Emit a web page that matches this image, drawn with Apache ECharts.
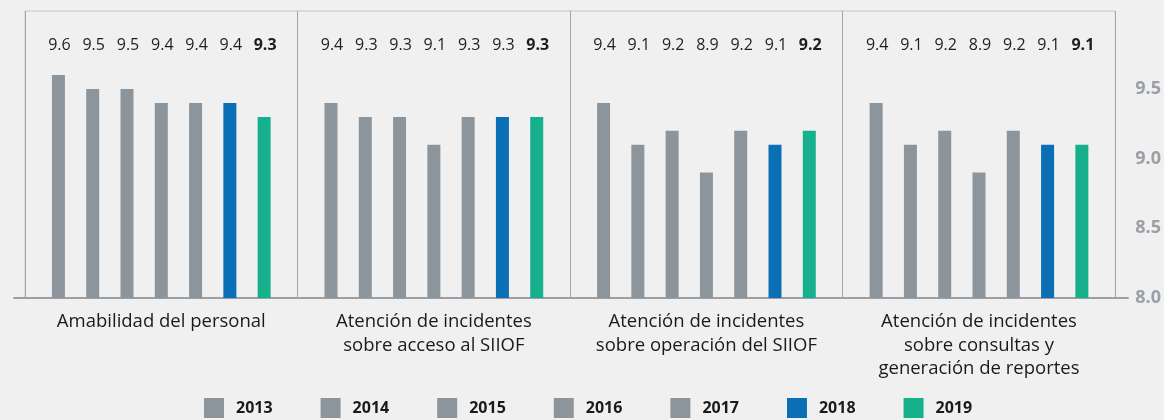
<!DOCTYPE html>
<html>
<head>
<meta charset="utf-8">
<script src="https://cdn.jsdelivr.net/npm/echarts@6/dist/echarts.min.js"></script>
<style>
  html, body { margin: 0; padding: 0; background: #f0f0f0; }
  #chart { width: 1164px; height: 420px; }
</style>
</head>
<body>
<div id="chart"></div>
<script>
// Survey categories (x axis)
const categories = [
  'Amabilidad del personal',
  'Atención de incidentes\nsobre acceso al SIIOF',
  'Atención de incidentes\nsobre operación del SIIOF',
  'Atención de incidentes\nsobre consultas y\ngeneración de reportes'
];

// Yearly scores per category
const years = ['2013', '2014', '2015', '2016', '2017', '2018', '2019'];
const v2013 = [9.6, 9.4, 9.4, 9.4];
const v2014 = [9.5, 9.3, 9.1, 9.1];
const v2015 = [9.5, 9.3, 9.2, 9.2];
const v2016 = [9.4, 9.1, 8.9, 8.9];
const v2017 = [9.4, 9.3, 9.2, 9.2];
const v2018 = [9.4, 9.3, 9.1, 9.1];
const v2019 = [9.3, 9.3, 9.2, 9.1];
const yearValues = [v2013, v2014, v2015, v2016, v2017, v2018, v2019];

// Right-hand axis tick labels
const yTickLabels = ['8.0', '8.5', '9.0', '9.5'];

const GRAY = '#8d959c';
const colors = [GRAY, GRAY, GRAY, GRAY, GRAY, '#0b6fb5', '#17b08d'];
const Y_MIN = 8.0;
const Y_MAX = 10.06;
const FONT = '"Open Sans", "Noto Sans", sans-serif';

// Each year is a custom series: a slim bar offset within the category band,
// plus its value printed on a common row near the top of the plot.
function makeRenderer(k) {
  return function (params, api) {
    const cat = api.value(0);
    const v = api.value(1);
    const band = api.size([1, 0])[0];
    const step = band * 0.1258;
    const w = band * 0.0477;
    const top = api.coord([cat, v]);
    const base = api.coord([cat, Y_MIN]);
    const x = top[0] + (k - 3) * step;
    const labelY = params.coordSys.y + 34.5;
    return {
      type: 'group',
      children: [
        {
          type: 'rect',
          shape: { x: x - w / 2, y: top[1], width: w, height: base[1] - top[1] },
          style: { fill: colors[k] }
        },
        {
          type: 'text',
          x: x + 1,
          y: labelY,
          style: {
            text: v.toFixed(1),
            align: 'center',
            verticalAlign: 'middle',
            fill: '#1e1e1e',
            font: (k === 6 ? 'bold ' : 'normal ') + '16px ' + FONT
          }
        }
      ]
    };
  };
}

const series = years.map((y, k) => ({
  name: y,
  type: 'custom',
  xAxisIndex: 0,
  yAxisIndex: 0,
  itemStyle: { color: colors[k] },
  renderItem: makeRenderer(k),
  encode: { x: 0, y: 1 },
  data: yearValues[k].map((val, i) => [i, val])
}));

const option = {
  backgroundColor: '#f0f0f0',
  animation: false,
  textStyle: { fontFamily: FONT },
  legend: {
    data: years,
    left: 199,
    top: 393,
    itemWidth: 20,
    itemHeight: 20,
    itemGap: 48,
    icon: 'rect',
    textStyle: { fontSize: 16, fontWeight: 'bold', color: '#1a1a1a', fontFamily: FONT, padding: [0, 0, 0, 7] }
  },
  grid: [
    {
      left: 25, right: 48, top: 11, bottom: 122,
      show: true, borderColor: '#c6c6c6', borderWidth: 1
    },
    {
      // wider grid carrying only the extended baseline
      left: 14, right: 36, top: 11, bottom: 122
    }
  ],
  xAxis: [
    {
      type: 'category',
      gridIndex: 0,
      data: categories,
      axisLine: { show: false },
      axisTick: { show: false },
      splitLine: { show: true, lineStyle: { color: '#a3a8ad', width: 1 } },
      axisLabel: {
        color: '#1a1a1a',
        fontSize: 18.5,
        lineHeight: 23.5,
        margin: 12,
        fontFamily: FONT,
        interval: 0
      }
    },
    {
      type: 'value',
      gridIndex: 1,
      min: 0,
      max: 1,
      axisLine: { show: true, lineStyle: { color: '#9aa0a6', width: 2 } },
      axisTick: { show: false },
      axisLabel: { show: false },
      splitLine: { show: false }
    }
  ],
  yAxis: [
    {
      type: 'value',
      gridIndex: 0,
      position: 'right',
      min: Y_MIN,
      max: Y_MAX,
      interval: 0.5,
      axisLine: { show: false },
      axisTick: { show: false },
      splitLine: { show: false },
      axisLabel: {
        margin: 20,
        color: '#9aa0a6',
        fontSize: 18,
        fontWeight: 'bold',
        fontFamily: FONT,
        formatter: function (val) {
          const idx = Math.round((val - Y_MIN) / 0.5);
          return Math.abs(val - (Y_MIN + idx * 0.5)) < 1e-6 && idx < yTickLabels.length ? yTickLabels[idx] : '';
        }
      }
    },
    {
      type: 'value',
      gridIndex: 1,
      min: 0,
      max: 1,
      show: false
    }
  ],
  series: series
};

const chart = echarts.init(document.getElementById('chart'), null, { renderer: 'canvas' });
chart.setOption(option);
</script>
</body>
</html>
